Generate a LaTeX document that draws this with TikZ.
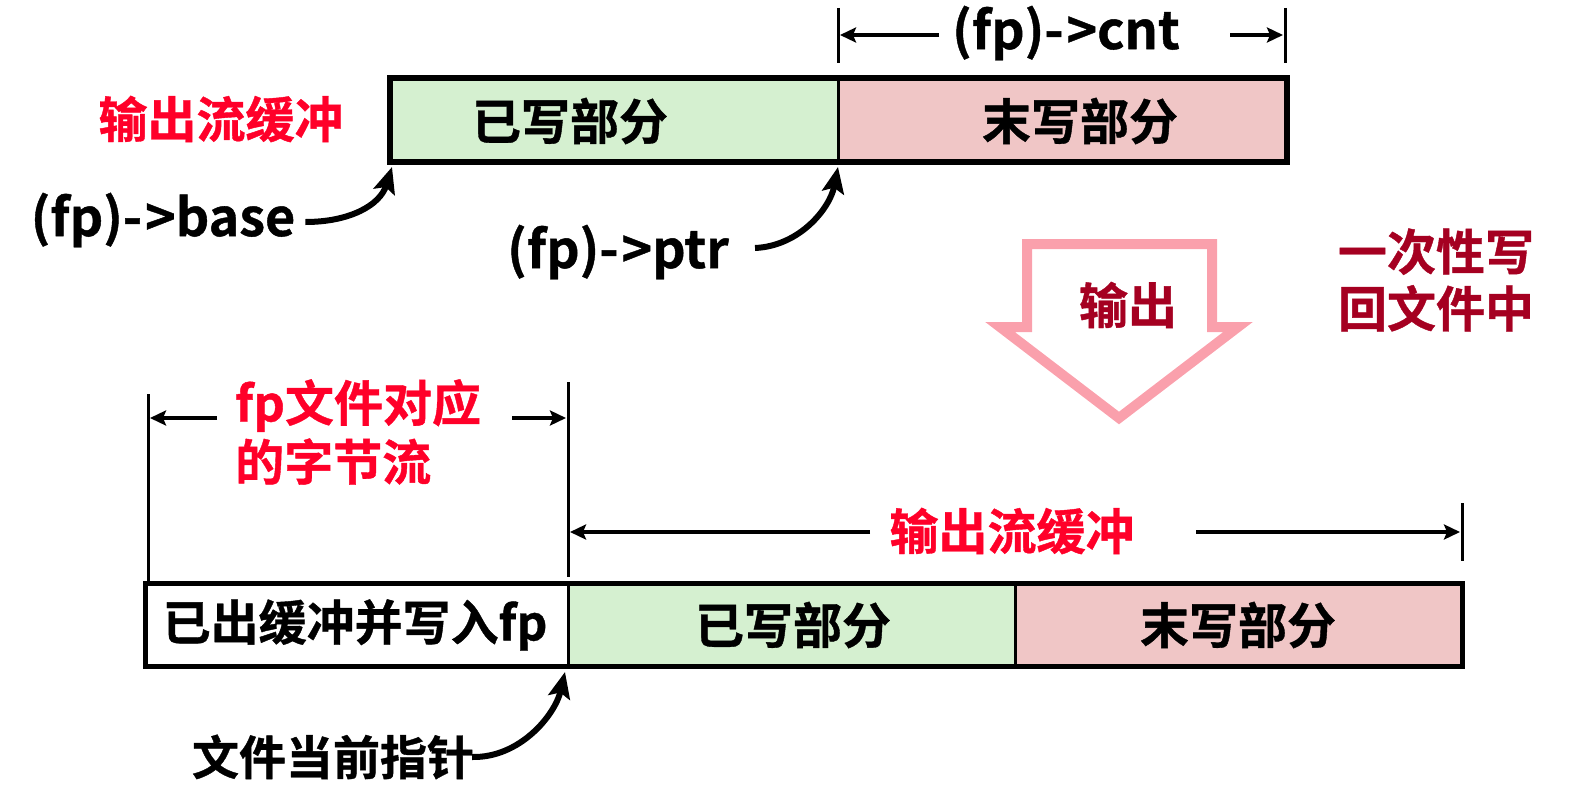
\documentclass[tikz,border=0pt]{standalone}
\usepackage{fontspec}
\setmainfont{Noto Sans CJK SC}[BoldFont=* Bold, BoldFeatures={FakeBold=0.8}]
\usetikzlibrary{arrows.meta,calc}
\definecolor{gfill}{RGB}{213,240,208}
\definecolor{pfill}{RGB}{240,198,198}
\definecolor{redt}{RGB}{255,0,41}
\definecolor{darkr}{RGB}{165,0,33}
\definecolor{pinkarrow}{RGB}{250,160,172}
\begin{document}
\begin{tikzpicture}[x=1pt,y=-1pt,
 cjk/.style={font=\bfseries\fontsize{49}{58}\selectfont, inner sep=0pt},
 lat/.style={font=\bfseries\fontsize{52}{60}\selectfont, inner sep=0pt},
 cell/.style={inner sep=0pt, outer sep=0pt},
 dim/.style={line width=4pt, -{Stealth[length=16pt,width=15pt,inset=3pt]}},
 tick/.style={line width=3pt},
 ptr/.style={line width=6pt, -{Stealth[length=26pt,width=22pt,inset=5pt]}},
]
\useasboundingbox (0,0) rectangle (1583,808);

% ---------- top buffer ----------
\node[cell, fill=gfill, minimum width=448pt, minimum height=84pt] (tw) at (614,120) {};
\node[cell, fill=pfill, minimum width=449pt, minimum height=84pt] (tu) at (1062.5,120) {};
\draw[line width=3pt] (tw.north east) -- (tw.south east);
\draw[line width=6pt] (tw.north west) rectangle (tu.south east);
\node[cjk] (twt) at (570,121) {已写部分};
\node[cjk] (tut) at (1080,121) {末写部分};
\node[cjk, text=redt] (obuf) at (221,119) {输出流缓冲};

% top dimension (fp)->cnt
\coordinate (ctl) at (838,8);  \coordinate (cbl) at (838,63);
\coordinate (ctr) at (1285,8); \coordinate (cbr) at (1285,63);
\draw[tick] (ctl) -- (cbl);
\draw[tick] (ctr) -- (cbr);
\node[lat] (cnt) at (1066,33) {(fp)-\kern3pt>cnt};
\coordinate (cntL) at (939,35); \coordinate (cntR) at (1230,35);
\coordinate (cntLe) at (840,35); \coordinate (cntRe) at (1283,35);
\draw[dim] (cntL) -- (cntLe);
\draw[dim] (cntR) -- (cntRe);

% pointers
\node[lat] (base) at (163,220) {(fp)-\kern3pt>base};
\draw[ptr] ($(base.east)+(10,2)$) .. controls (350,222) and (380,205) .. ($(tw.south west)+(2,5)$);
\node[lat] (ptrt) at (618,252) {(fp)-\kern3pt>ptr};
\draw[ptr] ($(ptrt.east)+(26,-4)$) .. controls (800,246) and (830,208) .. ($(tw.south east)+(0,5)$);

% ---------- hollow arrow ----------
\draw[pinkarrow, line width=10pt, miter limit=10] (1027,244) -- (1212,244) -- (1212,327) -- (1238,327) -- (1119,418) -- (1000,327) -- (1027,327) -- cycle;
\node[cjk, text=darkr] (outlbl) at (1128,305) {输出};
\node[cjk, text=darkr, align=center, font=\bfseries\fontsize{49}{57}\selectfont] (once) at (1436,280) {一次性写\\回文件中};

% ---------- bottom buffer ----------
\node[cell, fill=white, minimum width=423pt, minimum height=83pt] (bw) at (356.5,624.5) {};
\node[cell, fill=gfill, minimum width=447pt, minimum height=83pt] (bg) at (791.5,624.5) {};
\node[cell, fill=pfill, minimum width=447pt, minimum height=83pt] (bp) at (1238.5,624.5) {};
\draw[line width=3pt] (bw.north east) -- (bw.south east);
\draw[line width=3pt] (bg.north east) -- (bg.south east);
\draw[line width=5pt] (bw.north west) rectangle (bp.south east);
\node[cjk, font=\bfseries\fontsize{48}{58}\selectfont] (bwt) at (355,625) {已出缓冲并写入fp};
\node[cjk] (bgt) at (793,625) {已写部分};
\node[cjk] (bpt) at (1238,625) {末写部分};

% file byte stream dimension
\coordinate (v1t) at (148,394); \coordinate (v1b) at (148,583);
\coordinate (v2t) at (568,382); \coordinate (v2b) at (568,577);
\draw[tick] (v1t) -- (v1b);
\draw[tick] (v2t) -- (v2b);
\node[cjk, text=redt, anchor=west, align=left, font=\bfseries\fontsize{49}{59}\selectfont] (fpbytes) at (235,432) {fp文件对应\\的字节流};
\coordinate (fa1) at (217,418); \coordinate (fa1e) at (150,418);
\coordinate (fa2) at (512,418); \coordinate (fa2e) at (566,418);
\draw[dim] (fa1) -- (fa1e);
\draw[dim] (fa2) -- (fa2e);

% output buffer dimension
\coordinate (v3t) at (1462,503); \coordinate (v3b) at (1462,561);
\draw[tick] (v3t) -- (v3b);
\node[cjk, text=redt] (obuf2) at (1012,531) {输出流缓冲};
\coordinate (ba1) at (870,532); \coordinate (ba1e) at (570,532);
\coordinate (ba2) at (1196,532); \coordinate (ba2e) at (1460,532);
\draw[dim] (ba1) -- (ba1e);
\draw[dim] (ba2) -- (ba2e);

% file pointer
\node[cjk, font=\bfseries\fontsize{47}{58}\selectfont] (fptr) at (333,757) {文件当前指针};
\draw[ptr] ($(fptr.east)+(-2,0)$) .. controls (520,758) and (555,715) .. ($(bw.south east)+(-3,6)$);
\end{tikzpicture}
\end{document}
